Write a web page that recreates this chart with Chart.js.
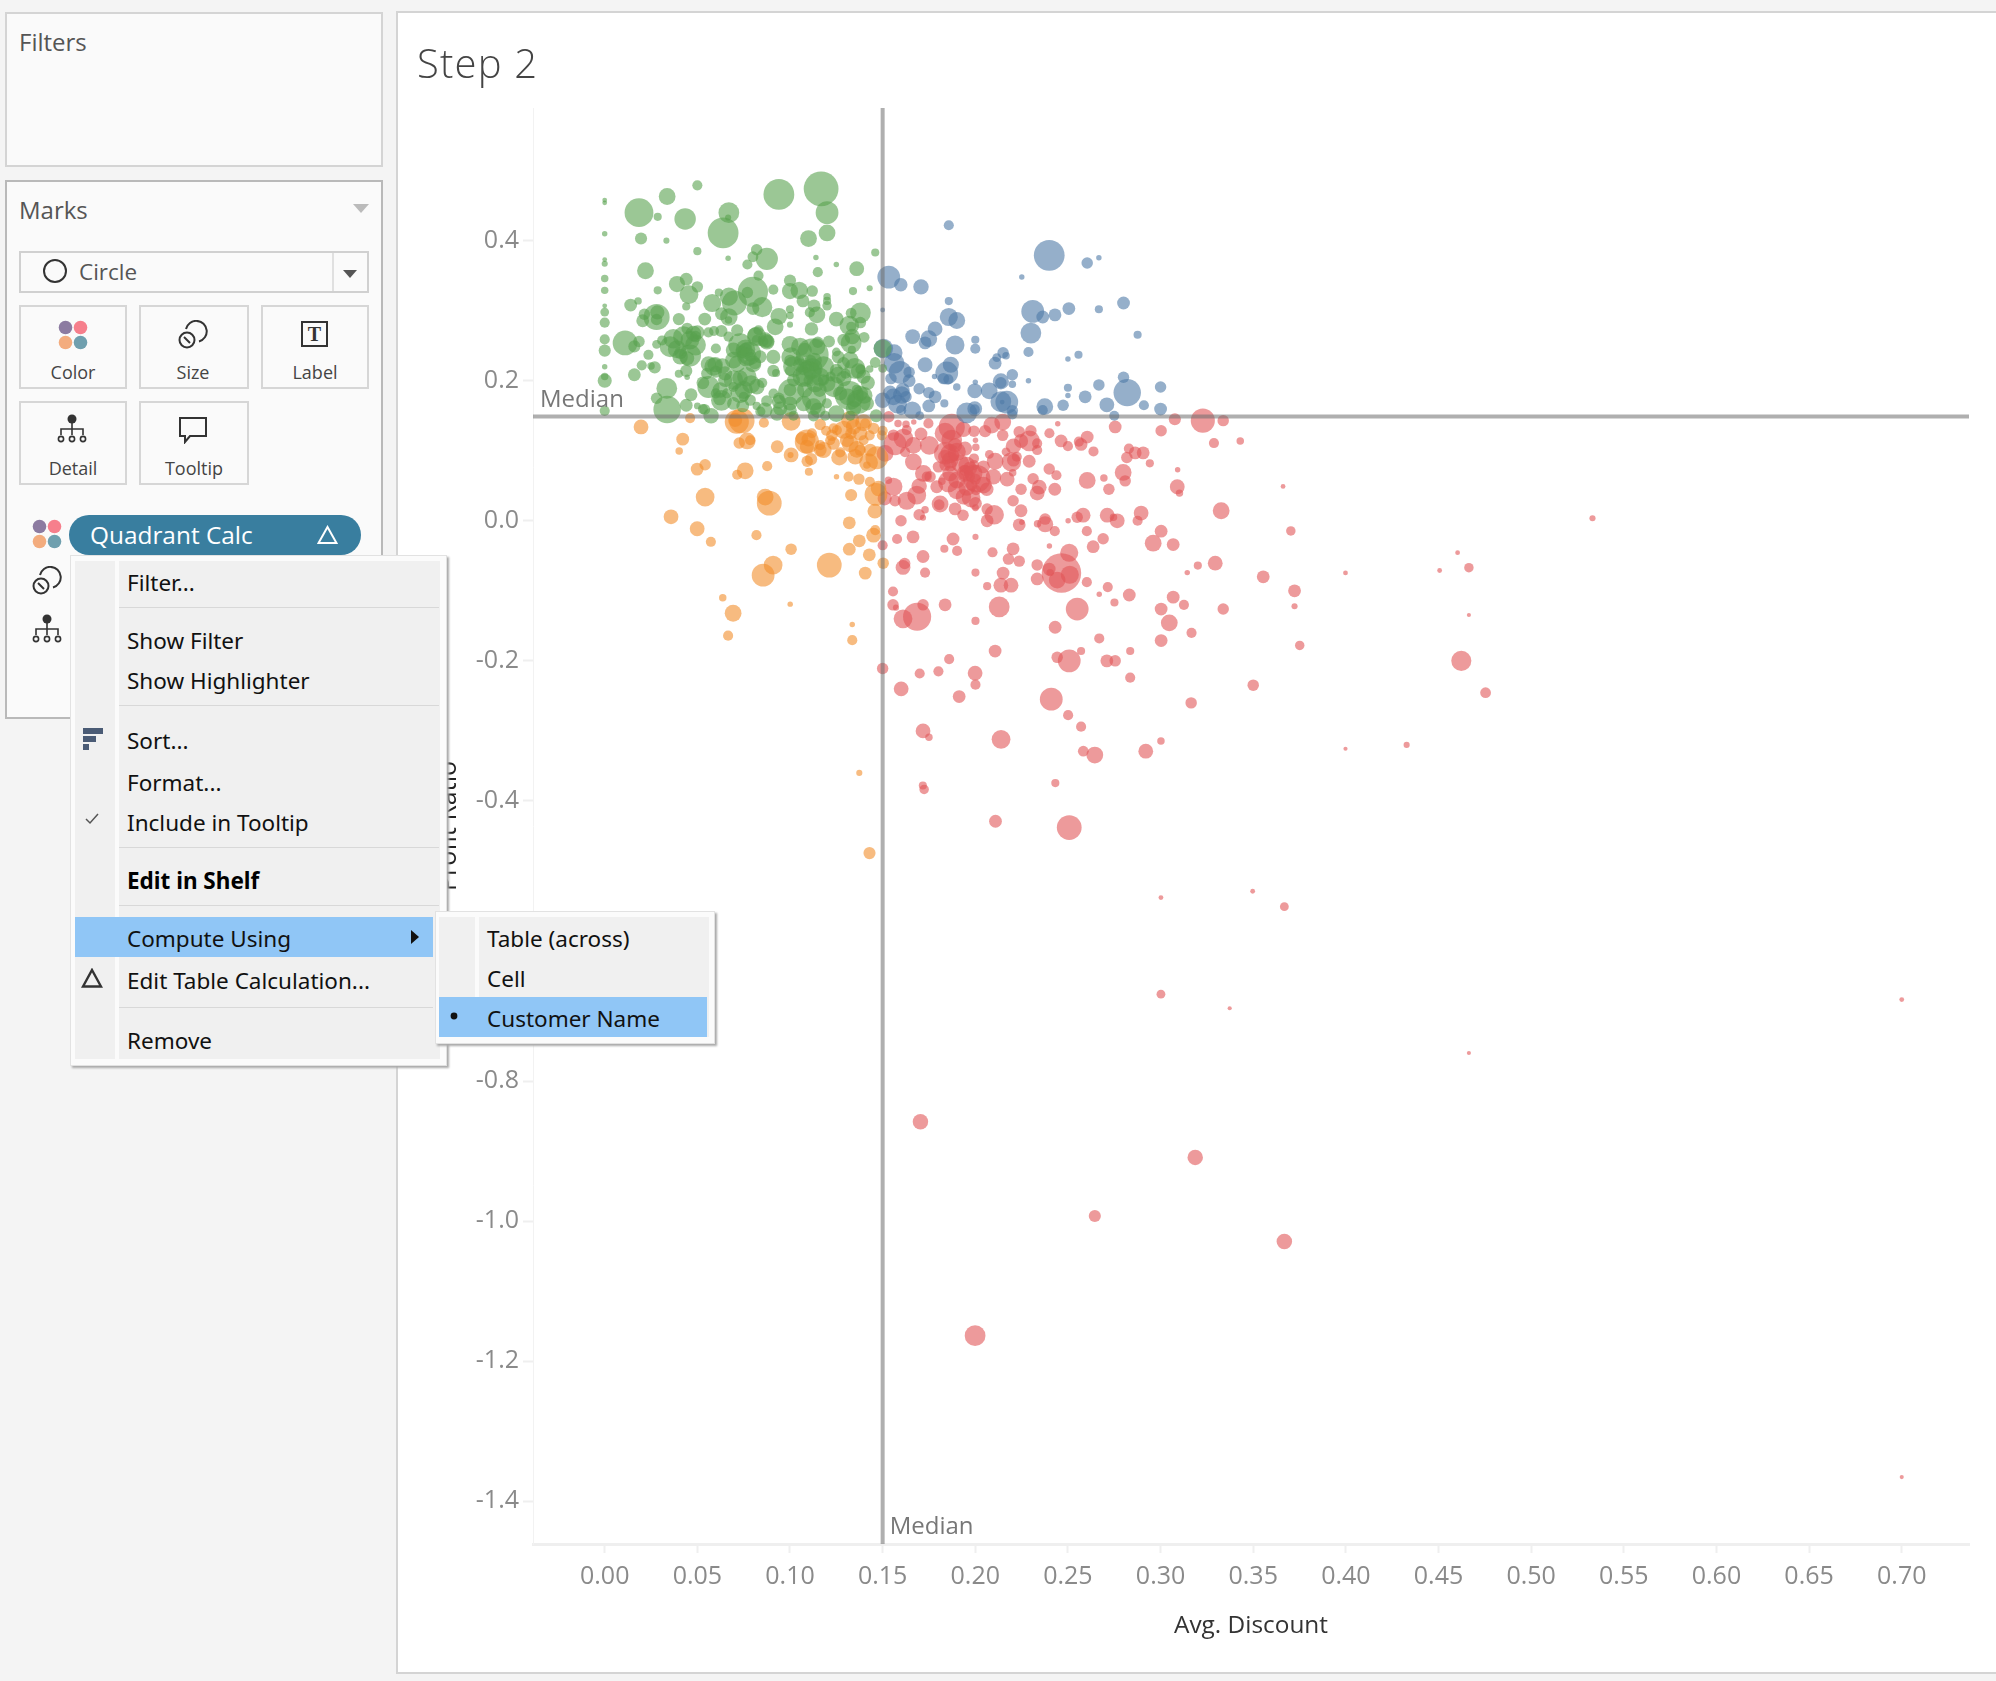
<!DOCTYPE html>
<html><head><meta charset="utf-8"><title>Step 2</title>
<script src="https://cdn.jsdelivr.net/npm/chart.js@4"></script>
<style>
html,body{margin:0;padding:0;width:1996px;height:1681px;overflow:hidden;background:#f4f4f4;font-family:"Open Sans",sans-serif}
.abs,.box,.t,.i{position:absolute}
.box{box-sizing:border-box}
.t{white-space:nowrap;transform:translateY(-50%)}
#chart{position:absolute;left:0;top:0;z-index:2}
.over{z-index:5}
.m{font-family:"Noto Sans",sans-serif;font-size:22.5px;color:#111}
.btn{box-sizing:border-box;position:absolute;border:2px solid #d6d6d6;background:#fafafa}
.btnl{position:absolute;font-size:18px;color:#444;transform:translate(-50%,-50%);white-space:nowrap}
</style></head><body>
<svg width="0" height="0" style="position:absolute"><defs>
<symbol id="dots" viewBox="0 0 30 30"><circle cx="7.5" cy="7.5" r="6.8" fill="#8c7ba1"/><circle cx="22.5" cy="7.5" r="6.8" fill="#f67f8c"/><circle cx="7.5" cy="22.5" r="6.8" fill="#f3ac7e"/><circle cx="22.5" cy="22.5" r="6.8" fill="#6f9fae"/></symbol>
<symbol id="sz" viewBox="0 0 30 30"><path d="M8 9 A 10.5 10.5 0 1 1 21 21.5" fill="none" stroke="#333" stroke-width="2"/><circle cx="9" cy="20" r="7.5" fill="none" stroke="#333" stroke-width="2"/><path d="M6 17 L12 23" stroke="#333" stroke-width="2"/></symbol>
<symbol id="det" viewBox="0 0 30 30"><circle cx="15" cy="5" r="4.5" fill="#333"/><path d="M15 9V18M4 21V15H26V21M15 15V21" stroke="#333" stroke-width="1.6" fill="none"/><circle cx="4" cy="25" r="2.6" fill="none" stroke="#333" stroke-width="1.6"/><circle cx="15" cy="25" r="2.6" fill="none" stroke="#333" stroke-width="1.6"/><circle cx="26" cy="25" r="2.6" fill="none" stroke="#333" stroke-width="1.6"/></symbol>
</defs></svg>

<!-- Filters -->
<div class="box" style="left:5px;top:12px;width:378px;height:155px;background:#fafafa;border:2px solid #d4d4d4"></div>
<div class="t" style="left:19px;top:41px;font-size:24px;color:#555">Filters</div>

<!-- Marks -->
<div class="box" style="left:5px;top:180px;width:378px;height:539px;background:#fafafa;border:2px solid #b9b9b9"></div>
<div class="t" style="left:19px;top:209px;font-size:24px;color:#555">Marks</div>
<svg class="i" style="left:353px;top:204px" width="16" height="9"><path d="M0 0H16L8 9Z" fill="#bbb"/></svg>
<div class="box" style="left:19px;top:251px;width:350px;height:42px;background:#fafafa;border:2px solid #d0d0d0"></div>
<div class="box" style="left:332px;top:253px;width:2px;height:38px;background:#e0e0e0"></div>
<svg class="i" style="left:42px;top:258px" width="26" height="26"><circle cx="13" cy="13" r="11" fill="none" stroke="#333" stroke-width="2"/></svg>
<div class="t" style="left:79px;top:271px;font-size:22.5px;color:#555">Circle</div>
<svg class="i" style="left:343px;top:270px" width="14" height="8"><path d="M0 0H14L7 8Z" fill="#555"/></svg>

<div class="btn" style="left:19px;top:305px;width:108px;height:84px"></div>
<div class="btn" style="left:139px;top:305px;width:110px;height:84px"></div>
<div class="btn" style="left:261px;top:305px;width:108px;height:84px"></div>
<div class="btn" style="left:19px;top:401px;width:108px;height:84px"></div>
<div class="btn" style="left:139px;top:401px;width:110px;height:84px"></div>
<svg class="i" style="left:58px;top:320px" width="30" height="30"><use href="#dots"/></svg>
<svg class="i" style="left:178px;top:320px" width="30" height="30"><use href="#sz"/></svg>
<svg class="i" style="left:301px;top:320px" width="28" height="28"><rect x="1" y="2" width="25" height="24" fill="none" stroke="#333" stroke-width="2"/><text x="13.5" y="21" text-anchor="middle" font-family="Liberation Serif" font-size="20" font-weight="bold" fill="#333">T</text></svg>
<svg class="i" style="left:57px;top:414px" width="30" height="30"><use href="#det"/></svg>
<svg class="i" style="left:178px;top:416px" width="30" height="28"><path d="M2 2H28V20H12L7 26V20H2Z" fill="none" stroke="#333" stroke-width="2"/></svg>
<div class="btnl" style="left:73px;top:372px">Color</div>
<div class="btnl" style="left:193px;top:372px">Size</div>
<div class="btnl" style="left:315px;top:372px">Label</div>
<div class="btnl" style="left:73px;top:468px">Detail</div>
<div class="btnl" style="left:194px;top:468px">Tooltip</div>

<svg class="i" style="left:32px;top:519px" width="30" height="30"><use href="#dots"/></svg>
<div class="box" style="left:69px;top:515px;width:292px;height:40px;background:#397e9f;border-radius:20px"></div>
<div class="t" style="left:90px;top:534px;font-size:24.4px;color:#fff">Quadrant Calc</div>
<svg class="i" style="left:317px;top:525px" width="21" height="20"><path d="M10.5 2L19.5 18H1.5Z" fill="none" stroke="#fff" stroke-width="2"/></svg>
<svg class="i" style="left:32px;top:566px" width="30" height="30"><use href="#sz"/></svg>
<svg class="i" style="left:32px;top:614px" width="30" height="30"><use href="#det"/></svg>

<!-- Viz panel -->
<div class="box" style="left:396px;top:11px;width:1610px;height:1663px;background:#fff;border:2px solid #d4d4d4"></div>
<div class="t" style="left:417px;top:62px;font-size:40px;font-weight:300;letter-spacing:1.2px;color:#444;z-index:3">Step 2</div>

<canvas id="chart" width="1996" height="1681"></canvas>

<!-- Context menu -->
<div class="box over" style="left:70px;top:555px;width:377px;height:511px;background:#fbfbfb;border:1px solid #e2e2e2;box-shadow:2px 2px 2px #aaa"></div>
<div class="box over" style="left:75px;top:561px;width:40px;height:498px;background:#f0f0f0"></div>
<div class="box over" style="left:119px;top:561px;width:321px;height:498px;background:#f0f0f0"></div>
<div class="box over" style="left:119px;top:607px;width:320px;height:1px;background:#d8d8d8"></div>
<div class="box over" style="left:119px;top:705px;width:320px;height:1px;background:#d8d8d8"></div>
<div class="box over" style="left:119px;top:847px;width:320px;height:1px;background:#d8d8d8"></div>
<div class="box over" style="left:119px;top:905px;width:320px;height:1px;background:#d8d8d8"></div>
<div class="box over" style="left:119px;top:1007px;width:314px;height:1px;background:#d8d8d8"></div>
<div class="box over" style="left:75px;top:917px;width:358px;height:40px;background:#90c6f6"></div>
<div class="t m over" style="left:127px;top:582px">Filter...</div>
<div class="t m over" style="left:127px;top:640px">Show Filter</div>
<div class="t m over" style="left:127px;top:680px">Show Highlighter</div>
<div class="t m over" style="left:127px;top:740px">Sort...</div>
<div class="t m over" style="left:127px;top:782px">Format...</div>
<div class="t m over" style="left:127px;top:822px">Include in Tooltip</div>
<div class="t m over" style="left:127px;top:880px;font-weight:700;color:#000">Edit in Shelf</div>
<div class="t m over" style="left:127px;top:938px">Compute Using</div>
<div class="t m over" style="left:127px;top:980px">Edit Table Calculation...</div>
<div class="t m over" style="left:127px;top:1040px">Remove</div>
<svg class="i over" style="left:83px;top:728px" width="20" height="22"><path d="M0 0H20V6H0ZM0 8H13V14H0ZM0 16H6V22H0Z" fill="#4a5b75"/></svg>
<svg class="i over" style="left:85px;top:813px" width="14" height="12"><path d="M1 6L5 10L13 1" fill="none" stroke="#555" stroke-width="1.5"/></svg>
<svg class="i over" style="left:81px;top:968px" width="22" height="20"><path d="M11 2L20 18.5H2Z" fill="none" stroke="#333" stroke-width="2.4"/></svg>
<svg class="i over" style="left:411px;top:930px" width="8" height="14"><path d="M0 0L8 7L0 14Z" fill="#111"/></svg>

<!-- Submenu -->
<div class="box over" style="left:435px;top:911px;width:280px;height:133px;background:#fbfbfb;border:1px solid #e2e2e2;box-shadow:2px 2px 2px #aaa"></div>
<div class="box over" style="left:439px;top:917px;width:36px;height:120px;background:#f0f0f0"></div>
<div class="box over" style="left:479px;top:917px;width:230px;height:120px;background:#f0f0f0"></div>
<div class="box over" style="left:439px;top:997px;width:268px;height:40px;background:#90c6f6"></div>
<div class="t m over" style="left:487px;top:938px">Table (across)</div>
<div class="t m over" style="left:487px;top:978px">Cell</div>
<div class="t m over" style="left:487px;top:1018px">Customer Name</div>
<svg class="i over" style="left:450px;top:1012px" width="8" height="8"><circle cx="4" cy="4" r="3.4" fill="#111"/></svg>

<script>
// x = Avg. Discount, y = Profit Ratio, third value = Sales
const seriesNames = ["Low discount, high profit","Low discount, low profit","High discount, high profit","High discount, low profit"];
const xTickValues = [0,0.05,0.10,0.15,0.20,0.25,0.30,0.35,0.40,0.45,0.50,0.55,0.60,0.65,0.70];
const yTickValues = [0.4,0.2,0,-0.2,-0.4,-0.6,-0.8,-1.0,-1.2,-1.4];
const xAxisTitle = "Avg. Discount";
const yAxisTitle = "Profit Ratio";
const medianDiscount = 0.15;
const medianProfit = 0.149;

const greenPoints = [
[0,.458,36],[0,.454,36],[0,.410,49],[0,.373,36],[0,.367,64],[0,.346,100],[0,.329,100],[0,.307,36],[0,.298,144],[0,.283,196],[0,.259,196],[0,.243,289],[0,.220,49],[0,.206,100],[0,.200,400],[0,.157,196],
[.0185,.440,1764],[.0337,.463,576],[.0286,.434,121],[.0434,.431,961],[.050,.479,196],[.0333,.400,64],[.0196,.403,289],[.050,.385,121],[.0639,.411,2025],[.067,.440,900],[.0666,.433,64],[.094,.466,2025],[.1168,.474,2601],[.120,.440,1089],[.120,.411,576],[.110,.403,576],[.0666,.375,49],[.0875,.374,1024],[.082,.387,256],[.080,.377,225],[.077,.366,196],[.114,.376,49],[.125,.366,49],[.115,.355,196],[.136,.360,441],[.146,.383,121],[.022,.357,576],[.083,.350,196],[.100,.343,289],[.039,.338,529],[.044,.345,324],[.0455,.323,729],[.050,.334,256],[.0286,.329,121],[.018,.314,100],[.014,.308,324],[.044,.306,121],[.058,.311,676],[.0616,.326,121],[.067,.320,676],[.070,.311,1296],[.080,.327,1936],[.077,.326,256],[.091,.330,196],[.100,.328,529],[.105,.329,625],[.112,.328,256],[.085,.305,841],[.080,.303,324],[.107,.314,324],[.113,.307,324],[.120,.320,100],[.120,.314,121],[.120,.307,169],[.134,.328,121],[.143,.332,64],
[.028,.291,1444],[.0284,.2975,400],[.0214,.295,256],[.0205,.2856,324],[.040,.288,289],[.028,.2875,256],[.063,.2956,324],[.067,.291,625],[.0668,.2866,100],[.054,.288,324],[.094,.292,576],[.100,.302,121],[.100,.293,100],[.092,.277,576],[.100,.280,64],[.1107,.2975,196],[.1145,.294,576],[.1116,.274,361],[.125,.288,441],[.138,.297,900],[.133,.2965,225],[.132,.279,784],[.133,.277,196],[.138,.283,256],
[.011,.254,1296],[.0185,.256,256],[.016,.249,289],[.031,.2575,196],[.028,.252,144],[.0236,.237,196],[.020,.222,196],[.016,.2085,324],[.025,.221,100],[.027,.219,289],[.037,.260,784],[.0445,.2747,256],[.050,.269,400],[.049,.263,256],[.046,.258,729],[.049,.251,900],[.039,.245,676],[.041,.240,324],[.0445,.232,400],[.046,.236,1024],[.044,.214,289],[.040,.210,121],[.0445,.205,49],[.056,.269,196],[.059,.271,196],[.063,.271,289],[.0668,.263,196],[.0715,.272,289],[.060,.246,196],[.073,.251,1156],[.076,.245,784],[.078,.239,1156],[.082,.263,784],[.083,.272,196],[.0866,.258,484],[.088,.256,324],[.0715,.224,576],[.080,.224,576],[.081,.225,289],[.091,.234,400],[.100,.252,576],[.1006,.234,784],[.100,.229,256],[.100,.214,196],[.091,.214,289],[.0925,.211,121],
[.056,.224,484],[.0596,.223,484],[.0635,.221,484],[.053,.197,324],[.060,.213,289],[.065,.201,400],[.056,.191,1024],[.063,.172,900],[.062,.174,324],[.073,.204,484],[.079,.195,676],[.075,.187,676],[.075,.177,196],[.085,.197,196],[.1006,.184,1444],[.100,.187,324],[.094,.175,256],[.094,.170,400],
[.115,.255,256],[.108,.244,400],[.112,.237,2304],[.110,.210,1444],[.112,.2175,900],[.113,.229,484],[.1055,.222,400],[.107,.206,900],[.120,.196,576],[.126,.208,576],[.126,.234,324],[.125,.241,144],[.121,.256,289],[.129,.258,324],[.1336,.263,484],[.133,.254,900],[.1334,.244,121],[.140,.262,225],[.146,.226,225],[.143,.2166,100],[.150,.2175,144],[.135,.2175,900],[.137,.214,484],[.130,.210,196],[.142,.197,400],[.132,.179,1764],[.131,.177,576],[.137,.170,1225],[.140,.179,576],[.135,.172,400],[.113,.175,1225],[.116,.187,400],[.1136,.196,625],[.108,.187,484],[.115,.158,484],[.100,.158,361],[.100,.1675,400],[.119,.150,196],[.125,.153,576],[.1325,.150,196],
[.0875,.171,256],[.0864,.158,484],[.082,.164,121],[.093,.153,400],[.084,.156,196],[.0745,.164,324],[.044,.165,324],[.0466,.180,324],[.0335,.189,900],[.028,.175,256],[.0337,.159,1600],[.050,.164,81],[.053,.1595,196],[.054,.159,225],[.0574,.150,484],[.1465,.150,324],[.150,.246,676],[.136,.187,196],
[.109,.220,324],[.111,.229,256],[.107,.215,196],[.111,.210,324],[.113,.220,196],[.110,.201,196],[.105,.229,196],[.118,.201,256],[.122,.206,196],[.125,.215,324],[.129,.203,484],[.138,.216,196],[.066,.182,196],[.060,.182,196],[.0695,.191,196],[.076,.244,400],[.074,.241,324],[.0785,.234,196],[.082,.258,196],[.0857,.256,196],
[.0353,.2485,900],[.0425,.2628,900],[.0479,.2675,484],[.0407,.2342,484],[.0695,.2437,484],[.0839,.2342,324],[.0695,.2294,576],[.0767,.2342,784],[.0812,.2651,484],[.0875,.2556,484],[.0587,.22,676],[.065,.2104,400],[.0551,.2104,256],[.0623,.1866,484],[.0695,.2009,784],[.0767,.2056,784],[.0821,.1914,484],[.0731,.1818,784],[.0695,.1676,324],[.0785,.1723,256],[.1019,.22,900],[.1019,.2009,324],[.1055,.2485,676],[.1145,.2485,576],[.1181,.22,900],[.1235,.1914,900],[.1163,.2056,676],[.1127,.1628,576],[.1073,.1676,484],[.1271,.1818,400],[.1289,.2247,324],[.1325,.2294,576],[.1379,.1818,484],[.1343,.1604,484],[.1415,.1676,400],[.1397,.2056,400],[.1199,.1676,196],[.1127,.150,256],[.0911,.1818,196],[.0947,.1604,400],[.1019,.150,196]
];

const orangePoints = [
[.0196,.134,441],[.0461,.1466,196],[.0421,.1166,324],[.0402,.0995,100],[.0713,.1414,1225],[.074,.143,1369],[.0704,.144,400],[.0859,.140,196],[.1006,.142,729],[.0726,.111,256],[.0769,.114,576],[.0785,.115,196],[.0931,.1057,324],[.1006,.094,441],[.1003,.0938,64],[.0499,.0738,324],[.0542,.080,256],[.0715,.0657,196],[.0758,.0714,576],[.0877,.078,196],[.1093,.085,256],[.1114,.088,289],[.1102,.070,121],[.1163,.1375,256],[.1195,.1285,196],[.1235,.132,196],[.1226,.122,256],[.1253,.1295,196],[.1289,.130,676],[.1325,.144,676],[.1329,.1247,256],[.1397,.140,576],[.1406,.139,196],[.143,.122,196],[.1397,.115,196],[.1325,.110,576],[.1118,.125,196],[.1064,.1176,324],[.1091,.113,1225],[.11,.116,400],[.1181,.101,529],[.1163,.108,196],[.1217,.115,196],[.1266,.0905,529],[.1271,.0976,196],[.1352,.0914,484],[.1361,.102,576],[.1424,.083,729],[.1415,.0795,100],[.1469,.090,1089],[.1496,.122,196],[.1500,.1285,196],
[.1251,.063,49],[.1316,.063,196],[.1372,.0595,256],[.1431,.0557,196],[.1330,.0367,289],[.1464,.0376,1089],[.1478,.046,484],[.1458,.0138,441],[.0542,.0338,729],[.0866,.0338,576],[.0888,.0252,1296],[.0358,.0057,441],[.0499,-.0114,441],[.0573,-.030,196],[.0819,-.0205,196],[.1006,-.0405,256],[.0909,-.0633,729],[.0855,-.0776,1089],[.1212,-.0633,1296],[.132,-.0029,324],[.1374,-.0286,324],[.132,-.0405,324],[.1451,-.0205,441],[.146,-.0133,196],[.1428,-.0486,324],[.1503,-.0605,256],[.1406,-.0747,324],[.0637,-.110,100],[.0693,-.132,576],[.1001,-.119,49],[.0666,-.164,196],[.1336,-.148,49],[.1336,-.1704,196],[.1374,-.36,64],[.1429,-.4745,289],
[.1235,.1104,324],[.1307,.1152,400],[.1379,.1247,400],[.1343,.1342,484],[.1451,.1319,256],[.1163,.1009,324],[.1091,.1057,400],[.1379,.1009,256],[.1433,.1009,324]
];

const bluePoints = [
[.1857,.422,196],[.2399,.379,2025],[.2604,.368,256],[.2667,.3756,49],[.2251,.348,49],[.1533,.348,1089],[.1598,.337,361],[.1707,.334,484],[.150,.301,36],[.1857,.3137,121],[.1857,.291,676],[.190,.286,576],[.1783,.274,441],[.1749,.260,576],[.1729,.254,324],[.1662,.263,441],[.1891,.251,729],[.200,.2585,121],[.200,.2456,196],[.231,.299,1089],[.2364,.291,324],[.243,.294,324],[.2505,.303,324],[.230,.268,900],[.2667,.302,121],[.280,.311,324],[.2876,.2656,121],[.2287,.241,196],[.250,.231,49],[.2557,.237,121],[.215,.240,256],[.2166,.2356,100],[.2116,.233,144],[.2107,.225,324],[.220,.2085,256],[.2138,.199,529],[.2138,.197,256],[.220,.195,100],[.200,.198,49],[.1997,.1856,441],[.2075,.1856,576],[.2138,.170,900],[.217,.1695,1089],[.2145,.1695,36],[.220,.157,256],[.220,.152,196],[.1954,.154,900],[.1997,.160,441],[.1997,.159,196],[.2287,.200,49],[.2375,.163,576],[.2364,.158,196],[.2474,.165,256],[.250,.190,121],[.250,.179,49],[.2593,.177,324],[.2667,.194,256],[.271,.1656,441],[.280,.205,256],[.282,.183,1600],[.300,.191,256],[.291,.165,196],[.300,.1595,324],[.275,.150,196],[.1833,.1676,121],[.1783,.177,324],[.1749,.183,256],[.1749,.164,324],[.1697,.1885,256],[.190,.191,100],[.178,.206,49],[.1729,.2228,441],[.1868,.2228,529],[.1846,.211,1089],[.1828,.203,256],[.1855,.202,196],[.1562,.240,576],[.1562,.2247,900],[.1594,.212,1089],[.1643,.212,256],[.1643,.200,324],[.1545,.203,256],[.1504,.246,784],[.1608,.1866,400],[.1603,.1795,625],[.154,.183,400],[.158,.1666,729],[.1558,.177,576],[.150,.172,484],[.166,.158,625],[.170,.150,144],[.160,.158,196],[.1626,.177,256]
];

const redPoints = [
[.3228,.143,1225],[.3077,.145,289],[.3338,.143,256],[.2755,.134,324],[.3003,.1285,256],[.2445,.1385,49],[.3288,.111,196],[.343,.114,100],[.240,.125,196],[.2463,.114,324],[.250,.1066,196],[.2571,.109,324],[.2604,.1195,324],[.2559,.113,196],[.2638,.099,196],[.2829,.103,196],[.2863,.097,324],[.2906,.097,324],[.2818,.0904,256],[.2942,.082,121],[.2798,.069,576],[.2809,.057,256],[.3092,.073,49],[.3090,.0486,441],[.3102,.0395,100],[.2604,.0576,576],[.2694,.061,100],[.2721,.045,256],[.2399,.074,256],[.2438,.065,196],[.2312,.060,256],[.2345,.048,441],[.2334,.0395,441],[.2429,.045,324],[.2247,.045,256],[.2204,.0286,256],[.2247,.0143,324],[.2237,-.0057,324],[.2251,-.002,49],[.2336,-.0043,100],[.2377,-.005,529],[.2377,.0024,256],[.2429,-.0148,196],[.2501,0,49],[.255,.005,256],[.2582,.008,441],[.2712,.008,441],[.2766,0,441],[.2746,.005,100],[.2895,.011,441],[.2876,0,196],[.3327,.0143,576],[.2602,-.0148,196],[.2690,-.0257,256],[.2636,-.037,324],[.240,-.036,49],[.3003,-.0148,324],[.2960,-.032,576],[.3068,-.034,324],
[.2507,-.0457,676],[.2465,-.0747,3364],[.2399,-.069,324],[.2442,-.0847,576],[.251,-.077,676],[.2404,-.074,100],[.2334,-.063,256],[.2334,-.083,324],[.2204,-.040,324],[.2179,-.0547,256],[.2237,-.0576,256],[.2093,-.045,196],[.2150,-.0747,324],[.2138,-.092,441],[.2193,-.092,441],[.2064,-.0933,121],[.2001,-.074,121],[.2001,-.023,64],[.188,-.026,324],[.1833,-.040,121],[.1902,-.043,196],[.1718,-.051,324],[.1664,-.023,324],[.1578,-.026,196],[.150,-.035,196],[.1619,-.061,256],[.161,-.0666,441],[.1729,-.074,196],[.1556,-.101,196],[.1556,-.120,256],[.1572,-.124,64],[.161,-.140,729],[.1686,-.137,1681],[.1718,-.120,256],[.1837,-.120,324],[.2129,-.123,900],[.2001,-.143,121],[.255,-.126,1089],[.2431,-.152,324],[.2602,-.0876,196],[.2715,-.0947,196],[.2669,-.105,49],[.2751,-.1166,121],[.2831,-.106,324],[.3068,-.109,324],[.3126,-.120,196],[.3003,-.126,324],[.3047,-.1457,576],[.3167,-.160,196],[.3003,-.171,324],[.3338,-.126,256],[.3295,-.0605,441],[.3201,-.064,121],[.3144,-.074,49],[.3554,-.080,324],[.2669,-.168,196],[.2107,-.186,324],[.1859,-.1975,196],[.1801,-.215,196],[.170,-.218,196],[.150,-.211,256],[.1999,-.2175,441],[.2001,-.234,196],[.160,-.240,441],[.1913,-.251,324],[.2442,-.195,256],[.2507,-.200,1089],[.2571,-.186,121],[.271,-.200,324],[.2755,-.200,256],[.2836,-.186,121],[.2836,-.224,196],[.241,-.2547,1089],[.2501,-.2775,196],[.2571,-.294,196],[.3165,-.260,256],[.350,-.2347,256],[.1718,-.300,441],[.175,-.309,100],[.2139,-.312,729],
[.1583,.139,100],[.1626,.138,100],[.1668,.141,49],[.1747,.139,196],[.1533,.1485,256],[.1707,.124,324],[.1612,.1176,784],[.1567,.110,1089],[.1666,.1076,576],[.1752,.1076,729],[.1621,.098,196],[.1837,.125,900],[.1873,.134,1444],[.1936,.1305,484],[.1993,.128,256],[.2053,.128,289],[.2089,.1366,576],[.2148,.141,576],[.2148,.122,256],[.2001,.115,49],[.2003,.105,100],[.1945,.103,400],[.1891,.108,400],[.1864,.096,784],[.1864,.0866,576],[.1918,.082,676],[.1993,.089,196],[.1993,.0795,196],[.2076,.0947,144],[.2107,.085,576],[.2166,.0985,144],[.2206,.1066,484],[.2237,.127,256],[.2300,.1285,256],[.2292,.114,900],[.2247,.114,400],[.2334,.1105,196],[.2334,.101,196],[.2195,.084,784],[.2206,.0866,324],[.2224,.0914,196],[.2291,.085,324],[.2202,.0685,100],[.2172,.0595,441],[.2098,.063,484],[.2008,.060,1600],[.1945,.0676,576],[.1972,.0747,400],[.194,.0666,256],[.1801,.077,256],[.1855,.0557,900],[.182,.0566,100],[.1900,.0438,676],[.1954,.0476,576],[.1999,.0595,256],[.2004,.0438,196],[.2062,.045,361],[.1977,.0328,729],[.2001,.0248,324],[.2001,.0186,81],[.1666,.084,576],[.172,.0676,576],[.1738,.063,196],[.1531,.058,100],[.1558,.0486,676],[.1684,.0366,729],[.1697,.0495,484],[.1630,.0286,676],[.1567,.0286,256],[.1511,.032,400],[.181,.024,576],[.1805,.023,225],[.1891,.017,324],[.1934,.008,256],[.1729,.0157,100],[.1697,.0086,256],[.1718,.0043,64],[.1599,0,256],[.2064,.0167,256],[.2102,.0086,784],[.2064,0,324],
[.1837,.0914,400],[.1864,.0795,324],[.1882,.0938,256],[.1837,.0795,256],[.1945,.072,256],[.1972,.063,196],[.1981,.051,256],
[.1873,.1152,900],[.1837,.0962,1024],[.19,.0985,676],[.1954,.0795,576],[.1864,.0676,484],[.199,.0676,676],[.19,.058,576],[.2044,.0771,324],[.1936,.0343,484],[.2044,.0509,576],[.1792,.0486,324],[.1756,.0628,256],[.1513,.0962,576],[.1558,.1223,256],[.163,.1295,196],
[.3661,.049,36],[.3703,-.0145,169],[.3723,-.100,324],[.3998,-.0745,36],[.4506,-.071,36],[.4603,-.0455,36],[.4664,-.067,169],[.4664,-.1345,25],[.5331,.0036,64],[.4623,-.200,841],[.4754,-.2455,225],[.3751,-.178,169],[.3723,-.122,64],[.4328,-.320,64],[.3998,-.3255,25],[.3002,-.3145,100],[.292,-.329,441],[.2645,-.3345,576],[.2583,-.329,225],[.1724,-.3836,169],[.1717,-.378,121],[.2432,-.3745,121],[.2109,-.429,324],[.2507,-.438,1296],[.3002,-.538,36],[.3497,-.529,36],[.3668,-.551,144],[.3002,-.676,144],[.3373,-.696,25],[.70,-.6836,36],[.4664,-.760,25],[.1704,-.858,484],[.3187,-.909,484],[.2645,-.9927,289],[.3668,-1.029,484],[.1999,-1.1636,900],[.70,-1.3655,25]
];

const X_MIN=-0.0387, X_MAX=0.7363, Y_MIN=-1.461, Y_MAX=0.5894;
const toBubbles = pts => pts.map(p => ({x:p[0], y:p[1], r:Math.sqrt(p[2])/3+0.4}));
const bubbleSet = (label, pts, rgb) => ({
  type:'bubble', label, data:toBubbles(pts),
  backgroundColor:`rgba(${rgb},0.6)`, borderWidth:0, order:1
});
const tickFont = {family:'"Open Sans",sans-serif', size:25};

const medianLabels = {
  id:'medianLabels',
  afterDatasetsDraw(c){
    const {ctx, scales:{x,y}} = c;
    ctx.save();
    ctx.font = '24px "Open Sans",sans-serif';
    ctx.fillStyle = '#777';
    ctx.textBaseline = 'middle';
    ctx.textAlign = 'left';
    ctx.fillText('Median', x.left+7, y.getPixelForValue(medianProfit)-16);
    ctx.fillText('Median', x.getPixelForValue(medianDiscount)+7, y.bottom-17);
    ctx.restore();
  }
};

new Chart(document.getElementById('chart'), {
  type:'bubble',
  data:{datasets:[
    {type:'line', label:'Median Profit Ratio', data:[{x:X_MIN,y:medianProfit},{x:X_MAX,y:medianProfit}], borderColor:'rgba(110,110,110,0.55)', borderWidth:4, pointRadius:0, order:0},
    {type:'line', label:'Median Avg. Discount', data:[{x:medianDiscount,y:Y_MIN},{x:medianDiscount,y:Y_MAX}], borderColor:'rgba(110,110,110,0.55)', borderWidth:4, pointRadius:0, order:0},
    bubbleSet(seriesNames[0], greenPoints, '89,161,79'),
    bubbleSet(seriesNames[1], orangePoints, '242,142,43'),
    bubbleSet(seriesNames[2], bluePoints, '78,121,167'),
    bubbleSet(seriesNames[3], redPoints, '225,87,89')
  ]},
  plugins:[medianLabels],
  options:{
    responsive:false, animation:false, devicePixelRatio:1,
    layout:{padding:{left:434,right:27,top:108,bottom:40}},
    plugins:{legend:{display:false},tooltip:{enabled:false},title:{display:false}},
    scales:{
      x:{type:'linear',min:X_MIN,max:X_MAX,
        afterBuildTicks(a){a.ticks=xTickValues.map(value=>({value}));},
        afterFit(a){a.height=97;},
        border:{color:'#efefef',width:3},
        grid:{drawOnChartArea:false,drawTicks:true,tickColor:'#efefef',tickLength:9,tickWidth:2},
        ticks:{autoSkip:false,maxRotation:0,font:tickFont,color:'#8a8a8a',padding:9,callback:v=>Number(v).toFixed(2)},
        title:{display:true,text:xAxisTitle,font:{family:'"Open Sans",sans-serif',size:24.4,weight:'500'},color:'#333',padding:{top:0,bottom:0}}
      },
      y:{type:'linear',min:Y_MIN,max:Y_MAX,
        afterBuildTicks(a){a.ticks=yTickValues.map(value=>({value}));},
        afterFit(a){a.width=99;},
        border:{color:'#f2f2f2',width:1},
        grid:{drawOnChartArea:false,drawTicks:true,tickColor:'#efefef',tickLength:10,tickWidth:2},
        ticks:{autoSkip:false,font:tickFont,color:'#8a8a8a',padding:4,callback:v=>Number(v).toFixed(1)},
        title:{display:true,text:yAxisTitle,font:{family:'"Open Sans",sans-serif',size:25,weight:'500'},color:'#222',padding:{top:0,bottom:0}}
      }
    }
  }
});
</script>
</body></html>
